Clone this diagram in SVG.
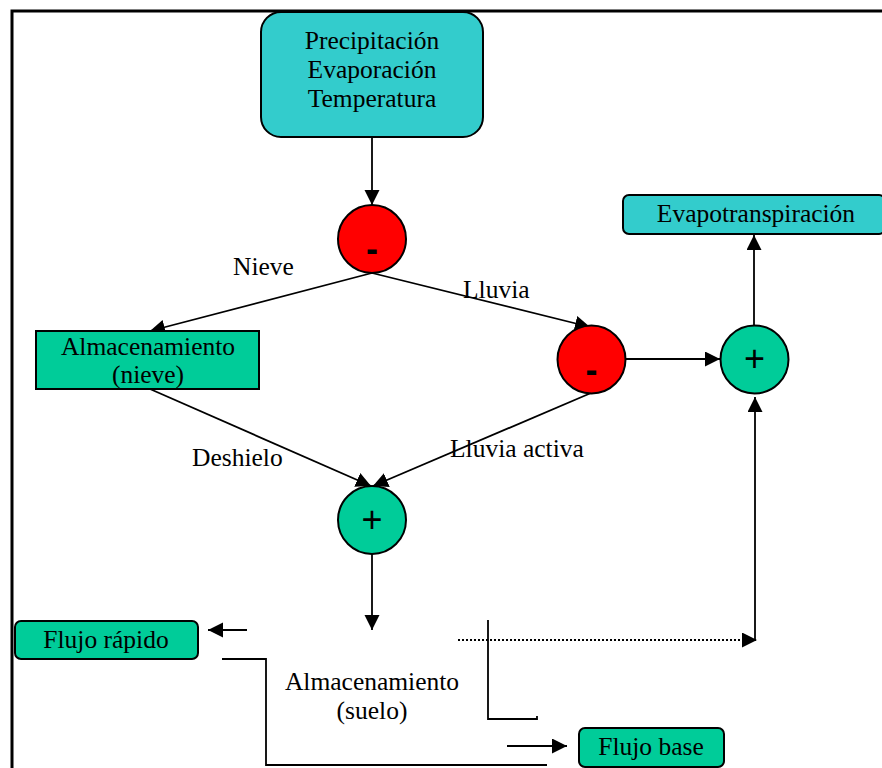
<svg xmlns="http://www.w3.org/2000/svg" width="882" height="768" viewBox="0 0 882 768">
  <defs>
    <marker id="arrow" markerUnits="userSpaceOnUse" markerWidth="16" markerHeight="16" refX="15" refY="7.5" orient="auto">
      <path d="M0,0 L15,7.5 L0,15 Z" fill="#000"/>
    </marker>
    <style>
      .lbl { font-family: "Liberation Serif", "Times New Roman", serif; font-size: 25.5px; fill: #000; }
      .sign { font-family: "Liberation Sans", Arial, sans-serif; fill: #000; }
      .edge { fill: none; stroke: #000; stroke-width: 1.8; }
      .node-line { stroke: #000; stroke-width: 2; }
      .cyan { fill: #33CCCC; }
      .green { fill: #00CC99; }
      .red { fill: #FF0000; }
    </style>
  </defs>

  <rect width="882" height="768" fill="#fff"/>

  <!-- frame -->
  <path d="M12,768 L12,11 L882,11" fill="none" stroke="#000" stroke-width="3"/>

  <!-- connectors -->
  <g id="connectors">
    <line class="edge" x1="372" y1="137" x2="372" y2="205" marker-end="url(#arrow)"/>
    <line class="edge" x1="372" y1="273" x2="150" y2="331" marker-end="url(#arrow)"/>
    <line class="edge" x1="372" y1="273" x2="590" y2="327" marker-end="url(#arrow)"/>
    <line class="edge" x1="626" y1="359" x2="720" y2="359" marker-end="url(#arrow)"/>
    <line class="edge" x1="754" y1="326" x2="754" y2="235" marker-end="url(#arrow)"/>
    <line class="edge" x1="150" y1="389" x2="371" y2="486" marker-end="url(#arrow)"/>
    <line class="edge" x1="591" y1="393" x2="373" y2="486" marker-end="url(#arrow)"/>
    <line class="edge" x1="372" y1="553" x2="372" y2="630" marker-end="url(#arrow)"/>
    <line class="edge" x1="247" y1="630" x2="208" y2="630" marker-end="url(#arrow)"/>
    <polyline class="edge" points="222,659 266,659 266,765 547,765"/>
    <line class="edge" x1="507" y1="746" x2="567" y2="746" marker-end="url(#arrow)"/>
    <polyline class="edge" points="488,620 488,719 537,719 537,716"/>
    <line class="edge" x1="458" y1="640" x2="757" y2="640" stroke-dasharray="2,2" marker-end="url(#arrow)"/>
    <line class="edge" x1="755" y1="640" x2="755" y2="397" marker-end="url(#arrow)"/>

    <text class="lbl" x="233" y="275">Nieve</text>
    <text class="lbl" x="463" y="298">Lluvia</text>
    <text class="lbl" x="192" y="466">Deshielo</text>
    <text class="lbl" x="450" y="457">Lluvia activa</text>
  </g>

  <g id="entrada">
    <rect class="cyan node-line" x="261" y="12" width="222" height="125" rx="20"/>
    <text class="lbl" x="372" y="49" text-anchor="middle">Precipitación</text>
    <text class="lbl" x="372" y="78" text-anchor="middle">Evaporación</text>
    <text class="lbl" x="372" y="107" text-anchor="middle">Temperatura</text>
  </g>

  <g id="resta-1">
    <circle class="red node-line" cx="372" cy="239" r="34"/>
    <text class="sign" x="372" y="261" font-size="36" font-weight="bold" text-anchor="middle">-</text>
  </g>

  <g id="nieve">
    <rect class="green node-line" x="36" y="331" width="223" height="58"/>
    <text class="lbl" x="148" y="355" text-anchor="middle">Almacenamiento</text>
    <text class="lbl" x="148" y="383" text-anchor="middle">(nieve)</text>
  </g>

  <g id="resta-2">
    <circle class="red node-line" cx="591.5" cy="359.5" r="34"/>
    <text class="sign" x="591.5" y="382" font-size="36" font-weight="bold" text-anchor="middle">-</text>
  </g>

  <g id="suma-et">
    <circle class="green node-line" cx="754.5" cy="359.5" r="34"/>
    <text class="sign" x="754.5" y="371" font-size="36" text-anchor="middle">+</text>
  </g>

  <g id="evapotranspiracion">
    <rect class="cyan node-line" x="623" y="195" width="262" height="39" rx="6"/>
    <text class="lbl" x="756" y="222" text-anchor="middle">Evapotranspiración</text>
  </g>

  <g id="suma-suelo">
    <circle class="green node-line" cx="372" cy="520" r="34"/>
    <text class="sign" x="372" y="532" font-size="36" text-anchor="middle">+</text>
  </g>

  <g id="suelo">
    <text class="lbl" x="372" y="690" text-anchor="middle">Almacenamiento</text>
    <text class="lbl" x="372" y="719" text-anchor="middle">(suelo)</text>
  </g>

  <g id="flujo-rapido">
    <rect class="green node-line" x="15" y="621" width="183" height="38" rx="6"/>
    <text class="lbl" x="106" y="648" text-anchor="middle">Flujo rápido</text>
  </g>

  <g id="flujo-base">
    <rect class="green node-line" x="579" y="728" width="145" height="39" rx="6"/>
    <text class="lbl" x="651" y="755" text-anchor="middle">Flujo base</text>
  </g>
</svg>
